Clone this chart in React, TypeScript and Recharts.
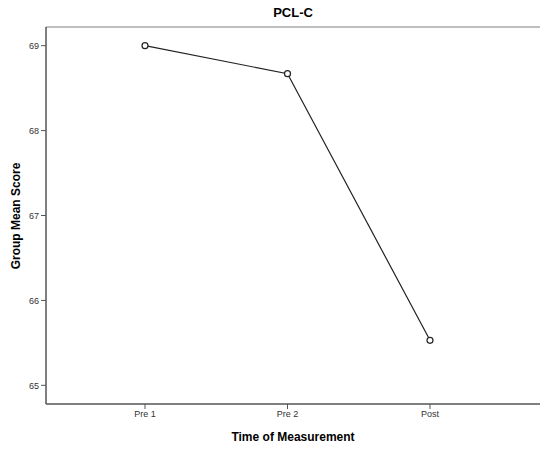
import { LineChart, Line, XAxis, YAxis, ReferenceLine } from "recharts";

// Group means
const times = ["Pre 1", "Pre 2", "Post"];
const meanScores = [69.0, 68.67, 65.53];
const yTicks = [65, 66, 67, 68, 69];
const yDomain = [64.78, 69.22];

const data = times.map((t, i) => ({ time: t, score: meanScores[i] }));

const font = "'Liberation Sans', Arial, sans-serif";

export default function App() {
  return (
    <div style={{ position: "fixed", left: 0, top: 0, width: 540, height: 450, background: "#fff", fontFamily: font }}>
      <div
        style={{
          position: "absolute",
          left: 46,
          width: 494,
          top: 5,
          textAlign: "center",
          fontWeight: "bold",
          fontSize: 13,
          color: "#000",
        }}
      >
        PCL-C
      </div>
      <LineChart width={540} height={450} data={data} margin={{ top: 27, right: 0, bottom: 0, left: 0 }}>
        <XAxis
          dataKey="time"
          scale="point"
          height={46}
          padding={{ left: 99, right: 110 }}
          axisLine={{ stroke: "#555", strokeWidth: 1.5 }}
          tickLine={{ stroke: "#555" }}
          tickSize={5}
          tickMargin={2}
          tick={{ fontSize: 9, fill: "#333", fontFamily: font }}
          label={{
            content: () => (
              <text x={293} y={441} textAnchor="middle" fontSize={12} fontWeight="bold" fill="#000" fontFamily={font}>
                Time of Measurement
              </text>
            ),
          }}
        />
        <YAxis
          width={46}
          type="number"
          domain={yDomain}
          ticks={yTicks}
          allowDataOverflow
          axisLine={{ stroke: "#555", strokeWidth: 1.5 }}
          tickLine={{ stroke: "#555" }}
          tickSize={5}
          tickMargin={2}
          tick={{ fontSize: 9, fill: "#333", fontFamily: font }}
          label={{
            content: () => (
              <text
                x={16}
                y={216}
                transform="rotate(-90 16 216)"
                textAnchor="middle"
                dominantBaseline="central"
                fontSize={12}
                fontWeight="bold"
                fill="#000"
                fontFamily={font}
              >
                Group Mean Score
              </text>
            ),
          }}
        />
        {/* light frame line along the top of the plot area */}
        <ReferenceLine y={yDomain[1]} stroke="#aaa" strokeWidth={1.5} />
        <Line
          type="linear"
          dataKey="score"
          stroke="#222"
          strokeWidth={1.2}
          dot={{ r: 3, stroke: "#222", strokeWidth: 1.2, fill: "#fff" }}
          activeDot={false}
          isAnimationActive={false}
        />
      </LineChart>
    </div>
  );
}
